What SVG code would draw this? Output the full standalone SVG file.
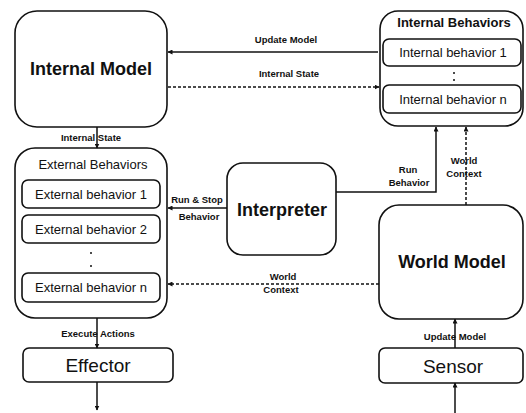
<svg xmlns="http://www.w3.org/2000/svg" width="526" height="413" viewBox="0 0 526 413">
<style>
.box{fill:#fff;stroke:#111;stroke-width:1.6}
.ln{fill:none;stroke:#111;stroke-width:1.5}
.dash{stroke-dasharray:3,2}
.dot{fill:#111}
text{font-family:"Liberation Sans",Arial,sans-serif;fill:#111;text-anchor:middle}
.big{font-size:18px;font-weight:bold}
.mid{font-size:19px}
.sub{font-size:13px}
.lbl{font-size:9.5px;font-weight:bold}
</style>
<defs>
<marker id="ah" viewBox="0 0 10 10" refX="9" refY="5" markerWidth="5" markerHeight="5" orient="auto" markerUnits="userSpaceOnUse">
<path d="M0,0 L10,5 L0,10 Z" fill="#111"/>
</marker>
</defs>
<rect width="526" height="413" fill="#fff"/>
<g id="internal-model"><rect class="box" x="15" y="11" width="152" height="116" rx="22"/><text class="big" x="91" y="75">Internal Model</text></g>
<g id="internal-behaviors"><rect class="box" x="380" y="11" width="143" height="115" rx="18"/><text class="sub" x="454" y="27" font-weight="bold">Internal Behaviors</text>
<g id="internal-behavior-1"><rect class="box" x="383" y="39" width="138" height="27" rx="6"/><text class="sub" x="453" y="57">Internal behavior 1</text></g>
<circle class="dot" cx="454" cy="73" r="1"/><circle class="dot" cx="454" cy="80" r="1"/>
<g id="internal-behavior-n"><rect class="box" x="383" y="85" width="138" height="28" rx="6"/><text class="sub" x="453" y="104">Internal behavior n</text></g></g>
<g id="external-behaviors"><rect class="box" x="15" y="148" width="152" height="170" rx="20"/><text class="sub" x="93" y="169">External Behaviors</text>
<g id="external-behavior-1"><rect class="box" x="22" y="180" width="138" height="28" rx="6"/><text class="sub" x="91" y="199">External behavior 1</text></g>
<g id="external-behavior-2"><rect class="box" x="22" y="215" width="138" height="28" rx="6"/><text class="sub" x="91" y="234">External behavior 2</text></g>
<circle class="dot" cx="91" cy="253" r="1"/><circle class="dot" cx="91" cy="266" r="1"/>
<g id="external-behavior-n"><rect class="box" x="22" y="273" width="138" height="29" rx="6"/><text class="sub" x="91" y="292">External behavior n</text></g></g>
<g id="interpreter"><rect class="box" x="227" y="163" width="109" height="92" rx="16"/><text class="big" x="282" y="216">Interpreter</text></g>
<g id="world-model"><rect class="box" x="379" y="205" width="144" height="114" rx="20"/><text class="big" x="452" y="268">World Model</text></g>
<g id="effector"><rect class="box" x="23" y="348" width="150" height="34" rx="6"/><text class="mid" x="98" y="372">Effector</text></g>
<g id="sensor"><rect class="box" x="379" y="348" width="144" height="35" rx="6"/><text class="mid" x="453" y="373">Sensor</text></g>
<g id="connectors">
<path class="ln" d="M378,52 H168" marker-end="url(#ah)"/>
<text class="lbl" x="286" y="43">Update Model</text>
<path class="ln dash" d="M168,87 H379" marker-end="url(#ah)"/>
<text class="lbl" x="289" y="77">Internal State</text>
<path class="ln" d="M97,127 V148" marker-end="url(#ah)"/>
<text class="lbl" x="91" y="141">Internal State</text>
<path class="ln" d="M227,208 H168" marker-end="url(#ah)"/>
<text class="lbl" x="197" y="203">Run &amp; Stop</text>
<text class="lbl" x="199" y="220">Behavior</text>
<path class="ln" d="M336,192 H436 V127" marker-end="url(#ah)"/>
<text class="lbl" x="408" y="173">Run</text>
<text class="lbl" x="409" y="186">Behavior</text>
<path class="ln dash" d="M466,205 V127" marker-end="url(#ah)"/>
<text class="lbl" x="464" y="164">World</text>
<text class="lbl" x="464" y="177">Context</text>
<path class="ln dash" d="M379,284 H168" marker-end="url(#ah)"/>
<text class="lbl" x="283" y="280">World</text>
<text class="lbl" x="281" y="293">Context</text>
<path class="ln" d="M97,318 V348" marker-end="url(#ah)"/>
<text class="lbl" x="98" y="337">Execute Actions</text>
<path class="ln" d="M97,382 V410" marker-end="url(#ah)"/>
<path class="ln" d="M455,348 V319" marker-end="url(#ah)"/>
<text class="lbl" x="455" y="340">Update Model</text>
<path class="ln" d="M455,413 V383" marker-end="url(#ah)"/>
</g>
</svg>
